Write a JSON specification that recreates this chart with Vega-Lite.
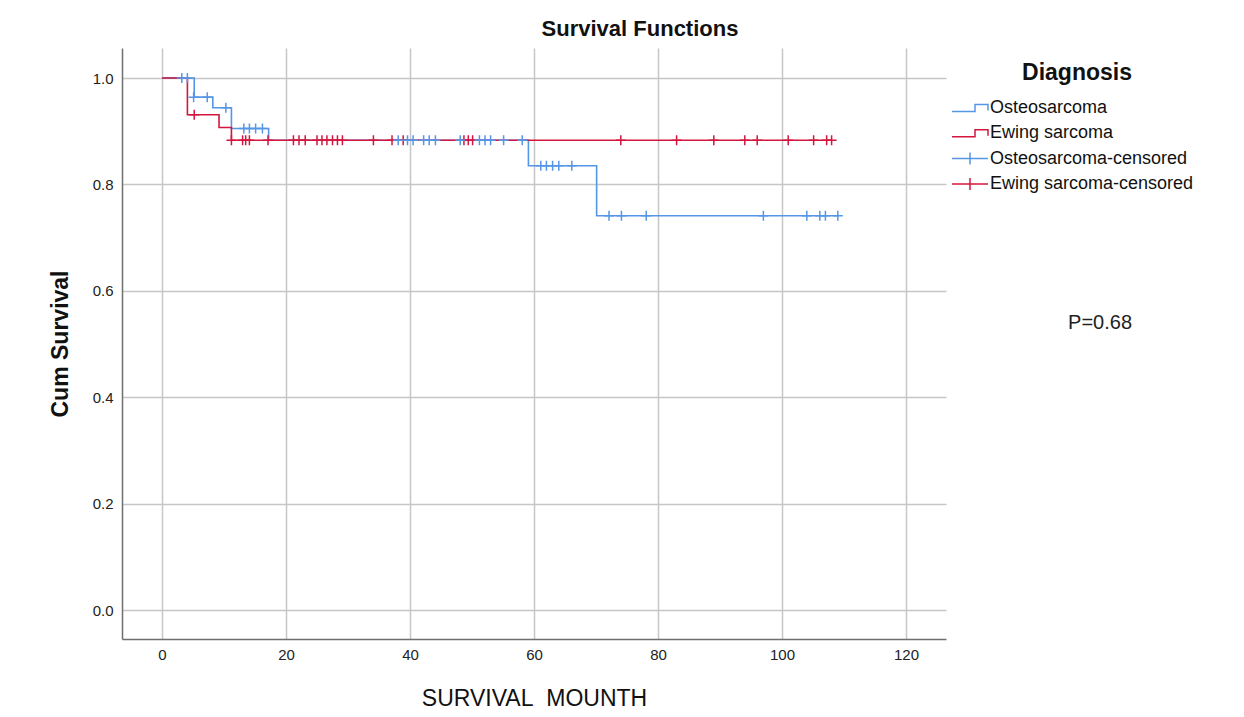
{
  "$schema": "https://vega.github.io/schema/vega-lite/v6.json",
  "width": 824,
  "height": 591,
  "autosize": {"type": "none"},
  "padding": {"left": 122, "top": 48, "right": 298, "bottom": 78},
  "background": "white",
  "title": {"text": "Survival Functions", "fontSize": 22, "fontWeight": "bold", "font": "Liberation Sans", "color": "#111111", "anchor": "middle", "dx": 106, "dy": 20, "baseline": "alphabetic", "offset": 10},
  "config": {
    "view": {"stroke": null},
    "font": "Liberation Sans",
    "axis": {"domainColor": "#6e6e6e", "domainWidth": 1.5, "gridColor": "#c6c6c6", "gridWidth": 1.5, "labelColor": "#222222", "titleColor": "#111111", "labelFont": "Liberation Sans", "titleFont": "Liberation Sans"},
    "legend": {"labelFont": "Liberation Sans", "titleFont": "Liberation Sans", "labelColor": "#111111", "titleColor": "#111111"}
  },
  "datasets": {
    "curves": [
      {"series": "Osteosarcoma", "t": 0, "s": 1.0},
      {"series": "Osteosarcoma", "t": 5.2, "s": 0.964},
      {"series": "Osteosarcoma", "t": 8.2, "s": 0.944},
      {"series": "Osteosarcoma", "t": 11.2, "s": 0.905},
      {"series": "Osteosarcoma", "t": 17.2, "s": 0.883},
      {"series": "Osteosarcoma", "t": 59.1, "s": 0.835},
      {"series": "Osteosarcoma", "t": 70.1, "s": 0.741},
      {"series": "Osteosarcoma", "t": 109, "s": 0.741},
      {"series": "Ewing sarcoma", "t": 0, "s": 1.0},
      {"series": "Ewing sarcoma", "t": 4.1, "s": 0.931},
      {"series": "Ewing sarcoma", "t": 9.2, "s": 0.907},
      {"series": "Ewing sarcoma", "t": 11.2, "s": 0.883},
      {"series": "Ewing sarcoma", "t": 108, "s": 0.883}
    ],
    "censored": [
      {"series": "Osteosarcoma-censored", "t": 3.2, "s": 1.0},
      {"series": "Osteosarcoma-censored", "t": 4.1, "s": 1.0},
      {"series": "Osteosarcoma-censored", "t": 5.1, "s": 0.964},
      {"series": "Osteosarcoma-censored", "t": 7.3, "s": 0.964},
      {"series": "Osteosarcoma-censored", "t": 10.3, "s": 0.944},
      {"series": "Osteosarcoma-censored", "t": 13.2, "s": 0.905},
      {"series": "Osteosarcoma-censored", "t": 14.1, "s": 0.905},
      {"series": "Osteosarcoma-censored", "t": 15.1, "s": 0.905},
      {"series": "Osteosarcoma-censored", "t": 16.2, "s": 0.905},
      {"series": "Osteosarcoma-censored", "t": 38.1, "s": 0.883},
      {"series": "Osteosarcoma-censored", "t": 39.6, "s": 0.883},
      {"series": "Osteosarcoma-censored", "t": 40.5, "s": 0.883},
      {"series": "Osteosarcoma-censored", "t": 42.2, "s": 0.883},
      {"series": "Osteosarcoma-censored", "t": 43.1, "s": 0.883},
      {"series": "Osteosarcoma-censored", "t": 44.1, "s": 0.883},
      {"series": "Osteosarcoma-censored", "t": 48.1, "s": 0.883},
      {"series": "Osteosarcoma-censored", "t": 51.2, "s": 0.883},
      {"series": "Osteosarcoma-censored", "t": 52.1, "s": 0.883},
      {"series": "Osteosarcoma-censored", "t": 53.0, "s": 0.883},
      {"series": "Osteosarcoma-censored", "t": 55.1, "s": 0.883},
      {"series": "Osteosarcoma-censored", "t": 58.1, "s": 0.883},
      {"series": "Osteosarcoma-censored", "t": 61.1, "s": 0.835},
      {"series": "Osteosarcoma-censored", "t": 62.0, "s": 0.835},
      {"series": "Osteosarcoma-censored", "t": 63.0, "s": 0.835},
      {"series": "Osteosarcoma-censored", "t": 64.0, "s": 0.835},
      {"series": "Osteosarcoma-censored", "t": 66.1, "s": 0.835},
      {"series": "Osteosarcoma-censored", "t": 72.1, "s": 0.741},
      {"series": "Osteosarcoma-censored", "t": 74.1, "s": 0.741},
      {"series": "Osteosarcoma-censored", "t": 78.1, "s": 0.741},
      {"series": "Osteosarcoma-censored", "t": 97.0, "s": 0.741},
      {"series": "Osteosarcoma-censored", "t": 104.0, "s": 0.741},
      {"series": "Osteosarcoma-censored", "t": 106.1, "s": 0.741},
      {"series": "Osteosarcoma-censored", "t": 107.0, "s": 0.741},
      {"series": "Osteosarcoma-censored", "t": 109.0, "s": 0.741},
      {"series": "Ewing sarcoma-censored", "t": 5.2, "s": 0.931},
      {"series": "Ewing sarcoma-censored", "t": 11.2, "s": 0.883},
      {"series": "Ewing sarcoma-censored", "t": 13.0, "s": 0.883},
      {"series": "Ewing sarcoma-censored", "t": 13.5, "s": 0.883},
      {"series": "Ewing sarcoma-censored", "t": 14.1, "s": 0.883},
      {"series": "Ewing sarcoma-censored", "t": 17.1, "s": 0.883},
      {"series": "Ewing sarcoma-censored", "t": 21.2, "s": 0.883},
      {"series": "Ewing sarcoma-censored", "t": 22.1, "s": 0.883},
      {"series": "Ewing sarcoma-censored", "t": 23.1, "s": 0.883},
      {"series": "Ewing sarcoma-censored", "t": 25.0, "s": 0.883},
      {"series": "Ewing sarcoma-censored", "t": 25.8, "s": 0.883},
      {"series": "Ewing sarcoma-censored", "t": 26.6, "s": 0.883},
      {"series": "Ewing sarcoma-censored", "t": 27.5, "s": 0.883},
      {"series": "Ewing sarcoma-censored", "t": 28.3, "s": 0.883},
      {"series": "Ewing sarcoma-censored", "t": 29.1, "s": 0.883},
      {"series": "Ewing sarcoma-censored", "t": 34.1, "s": 0.883},
      {"series": "Ewing sarcoma-censored", "t": 37.1, "s": 0.883},
      {"series": "Ewing sarcoma-censored", "t": 38.9, "s": 0.883},
      {"series": "Ewing sarcoma-censored", "t": 48.7, "s": 0.883},
      {"series": "Ewing sarcoma-censored", "t": 49.4, "s": 0.883},
      {"series": "Ewing sarcoma-censored", "t": 50.1, "s": 0.883},
      {"series": "Ewing sarcoma-censored", "t": 74.0, "s": 0.883},
      {"series": "Ewing sarcoma-censored", "t": 83.0, "s": 0.883},
      {"series": "Ewing sarcoma-censored", "t": 89.0, "s": 0.883},
      {"series": "Ewing sarcoma-censored", "t": 94.0, "s": 0.883},
      {"series": "Ewing sarcoma-censored", "t": 96.0, "s": 0.883},
      {"series": "Ewing sarcoma-censored", "t": 101.0, "s": 0.883},
      {"series": "Ewing sarcoma-censored", "t": 105.1, "s": 0.883},
      {"series": "Ewing sarcoma-censored", "t": 107.2, "s": 0.883},
      {"series": "Ewing sarcoma-censored", "t": 108.0, "s": 0.883}
    ],
    "note": [{"t": 151.3, "s": 0.54, "label": "P=0.68"}]
  },
  "encoding": {
    "x": {"field": "t", "type": "quantitative",
      "scale": {"domain": [-6.45, 126.45], "nice": false, "zero": false},
      "axis": {"title": "SURVIVAL\u00a0\u00a0MOUNTH", "values": [0, 20, 40, 60, 80, 100, 120], "grid": true, "ticks": false, "labelPadding": 8, "titlePadding": 25, "titleFontSize": 23, "titleFontWeight": "normal", "labelFontSize": 15, "labelFlush": false}},
    "y": {"field": "s", "type": "quantitative",
      "scale": {"domain": [-0.0545, 1.0564], "nice": false, "zero": false},
      "axis": {"title": "Cum Survival", "values": [0, 0.2, 0.4, 0.6, 0.8, 1.0], "format": ".1f", "grid": true, "ticks": false, "labelPadding": 9, "titlePadding": 20, "titleFontSize": 23, "titleFontWeight": "bold", "labelFontSize": 15, "labelFlush": false}}
  },
  "layer": [
    {
      "data": {"name": "curves"},
      "transform": [{"filter": "datum.series === 'Osteosarcoma'"}],
      "mark": {"type": "line", "interpolate": "step-after", "strokeWidth": 1.6, "color": "#5596e6"}
    },
    {
      "data": {"name": "curves"},
      "transform": [{"filter": "datum.series === 'Ewing sarcoma'"}],
      "mark": {"type": "line", "interpolate": "step-after", "strokeWidth": 1.6, "color": "#d4163f"}
    },
    {
      "data": {"name": "censored"},
      "transform": [{"filter": "datum.series === 'Ewing sarcoma-censored'"}],
      "mark": {"type": "point", "shape": "M-1,0H1M0,-1V1", "size": 100, "filled": false, "strokeWidth": 1.5, "opacity": 1, "color": "#d4163f"}
    },
    {
      "data": {"name": "censored"},
      "transform": [{"filter": "datum.series === 'Osteosarcoma-censored'"}],
      "mark": {"type": "point", "shape": "M-1,0H1M0,-1V1", "size": 100, "filled": false, "strokeWidth": 1.5, "opacity": 1, "color": "#5596e6"}
    },
    {
      "data": {"values": []},
      "mark": {"type": "point", "size": 100, "filled": false, "strokeWidth": 1.5, "opacity": 1},
      "encoding": {
        "color": {"field": "series", "type": "nominal",
          "scale": {"domain": ["Osteosarcoma", "Ewing sarcoma", "Osteosarcoma-censored", "Ewing sarcoma-censored"], "range": ["#5596e6", "#d4163f", "#5596e6", "#d4163f"]},
          "legend": {"title": "Diagnosis", "orient": "none", "legendX": 839, "legendY": 14, "titleFontSize": 23, "titleFontWeight": "bold", "titleAnchor": "middle", "titlePadding": 14, "labelFontSize": 18, "labelOffset": 11, "rowPadding": 7.3, "symbolSize": 100, "symbolStrokeWidth": 1.5, "labelLimit": 400}},
        "shape": {"field": "series", "type": "nominal",
          "scale": {"domain": ["Osteosarcoma", "Ewing sarcoma", "Osteosarcoma-censored", "Ewing sarcoma-censored"], "range": ["M-3.6,0.7H1V-0.7H3.6V0.5", "M-3.6,0.7H1V-0.7H3.6V0.5", "M-3.6,0H3.6M0,-1.2V1.2", "M-3.6,0H3.6M0,-1.2V1.2"]},
          "legend": {"title": "Diagnosis", "orient": "none", "legendX": 839, "legendY": 14, "titleFontSize": 23, "titleFontWeight": "bold", "titleAnchor": "middle", "titlePadding": 14, "labelFontSize": 18, "labelOffset": 11, "rowPadding": 7.3, "symbolSize": 100, "symbolStrokeWidth": 1.5, "labelLimit": 400}}
      }
    },
    {
      "data": {"name": "note"},
      "mark": {"type": "text", "fontSize": 20, "color": "#222222", "align": "center", "baseline": "middle", "font": "Liberation Sans"},
      "encoding": {"text": {"field": "label", "type": "nominal"}}
    }
  ]
}
